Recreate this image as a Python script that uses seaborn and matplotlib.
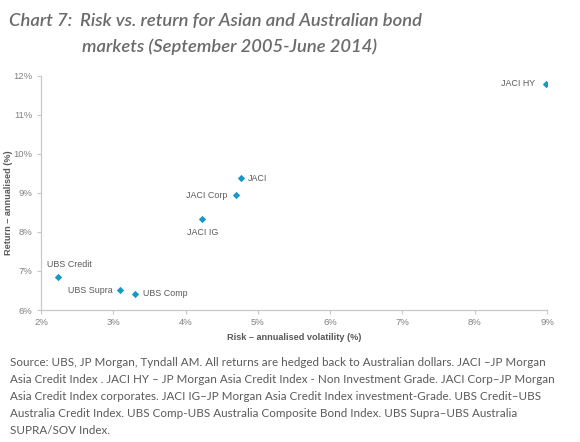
import matplotlib
matplotlib.use("Agg")
import matplotlib.pyplot as plt
import seaborn as sns
import pandas as pd
from matplotlib.ticker import FuncFormatter

# Data
names = ["JACI HY", "JACI", "JACI Corp", "JACI IG", "UBS Credit", "UBS Supra", "UBS Comp"]
risk = [8.99, 4.77, 4.70, 4.23, 2.24, 3.09, 3.30]
ret = [11.80, 9.37, 8.94, 8.34, 6.84, 6.50, 6.42]

df = pd.DataFrame({"name": names, "risk": risk, "ret": ret})

sns.set_style("white")
plt.rcParams["font.family"] = ["Liberation Sans", "DejaVu Sans"]

grey = "#808080"
spine = "#c8c8c8"
blue = "#1499c9"

fig = plt.figure(figsize=(5.8, 4.42), dpi=100)
ax = fig.add_axes([0.0707, 0.2986, 0.8724, 0.5301])

sns.scatterplot(data=df, x="risk", y="ret", marker="D", s=14, color=blue,
                edgecolor=blue, linewidth=0, ax=ax, legend=False)

# label placement: offset in points and alignment
offsets = {
    "JACI HY": (-8, 0, "right", "center"),
    "JACI": (5, 0, "left", "center"),
    "JACI Corp": (-6.5, 0, "right", "center"),
    "JACI IG": (0, -7, "center", "top"),
    "UBS Credit": (8, 6, "center", "bottom"),
    "UBS Supra": (-5, 0, "right", "center"),
    "UBS Comp": (6, 0, "left", "center"),
}
for n, x, y in zip(names, risk, ret):
    dx, dy, ha, va = offsets[n]
    ax.annotate(n, (x, y), xytext=(dx, dy), textcoords="offset points",
                ha=ha, va=va, fontsize=6.4, color="#595959")

ax.set_xlim(2, 9)
ax.set_ylim(6, 12)
ax.set_xticks(range(2, 10))
ax.set_yticks(range(6, 13))
pct = FuncFormatter(lambda v, p: f"{int(v)}%")
ax.xaxis.set_major_formatter(pct)
ax.yaxis.set_major_formatter(pct)
ax.tick_params(axis="both", labelsize=6.8, colors=grey, length=3, width=0.8,
               direction="out", pad=3)
ax.tick_params(axis="both", color=spine)
ax.tick_params(axis="x", bottom=True)
ax.tick_params(axis="y", left=True)
for s in ["top", "right"]:
    ax.spines[s].set_visible(False)
for s in ["left", "bottom"]:
    ax.spines[s].set_color(spine)
    ax.spines[s].set_linewidth(0.9)

ax.set_xlabel("Risk – annualised volatility (%)", fontsize=6.6, color="#595959",
              fontweight="bold", labelpad=4)
ax.set_ylabel("Return – annualised (%)", fontsize=6.6, color="#595959",
              fontweight="bold")
ax.yaxis.set_label_coords(-0.056, 0.46)

title_color = "#6b6b6b"
tkw = dict(fontsize=13.2, style="italic", color=title_color, family="Lato",
           fontweight="semibold", va="baseline")
fig.text(0.016, 0.941, "Chart 7:", **tkw)
fig.text(0.138, 0.941, "Risk vs. return for Asian and Australian bond", **tkw)
fig.text(0.141, 0.882, "markets (September 2005-June 2014)", **tkw)

foot = ("Source: UBS, JP Morgan, Tyndall AM. All returns are hedged back to Australian dollars. JACI \u2013JP Morgan\n"
        "Asia Credit Index . JACI HY \u2013 JP Morgan Asia Credit Index - Non Investment Grade. JACI Corp\u2013JP Morgan\n"
        "Asia Credit Index corporates. JACI IG\u2013JP Morgan Asia Credit Index investment-Grade. UBS Credit\u2013UBS\n"
        "Australia Credit Index. UBS Comp-UBS Australia Composite Bond Index. UBS Supra\u2013UBS Australia\n"
        "SUPRA/SOV Index.")
fig.text(0.017, 0.192, foot, fontsize=8.4, color="#5a5a5a", family="Lato",
         va="top", linespacing=1.66)

fig.savefig("out.png", dpi=100)
